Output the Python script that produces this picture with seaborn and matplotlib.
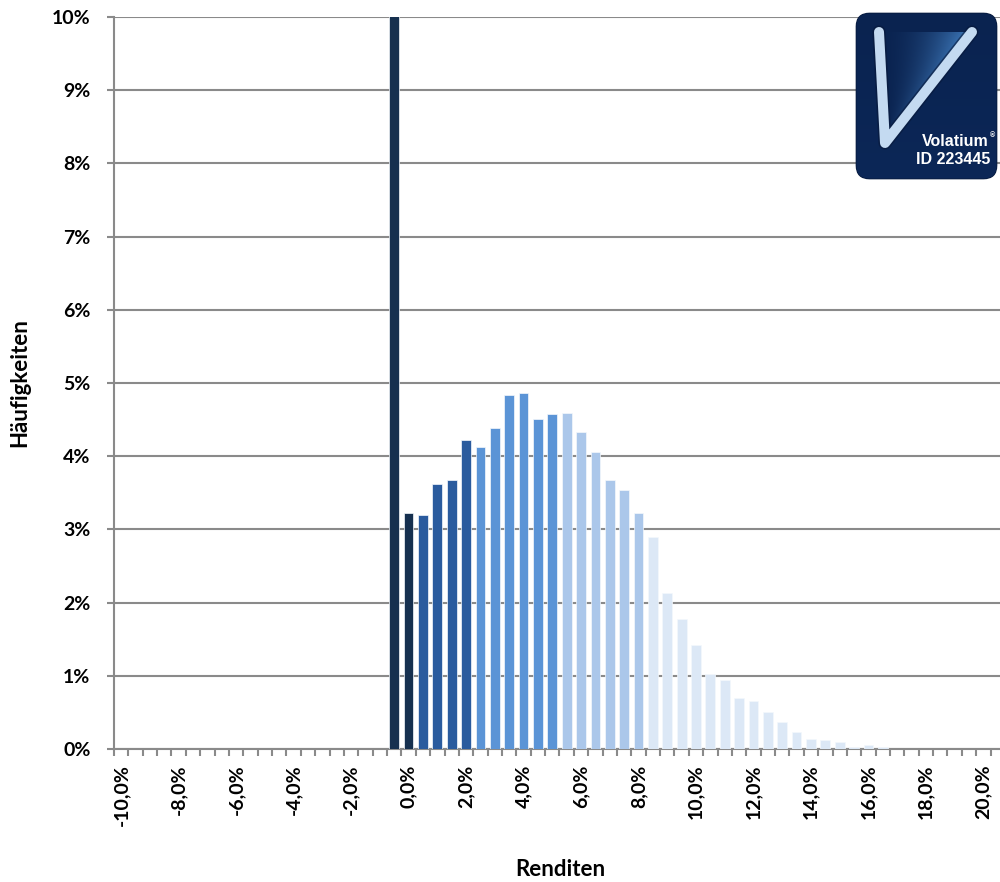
import numpy as np
import pandas as pd
import matplotlib
matplotlib.use("Agg")
import matplotlib.pyplot as plt
import seaborn as sns
from matplotlib.patches import FancyBboxPatch
from matplotlib.colors import to_rgb

# ---------------- data ----------------
returns = [-10.0, -9.5, -9.0, -8.5, -8.0, -7.5, -7.0, -6.5, -6.0, -5.5,
           -5.0, -4.5, -4.0, -3.5, -3.0, -2.5, -2.0, -1.5, -1.0, -0.5,
           0.0, 0.5, 1.0, 1.5, 2.0, 2.5, 3.0, 3.5, 4.0, 4.5,
           5.0, 5.5, 6.0, 6.5, 7.0, 7.5, 8.0, 8.5, 9.0, 9.5,
           10.0, 10.5, 11.0, 11.5, 12.0, 12.5, 13.0, 13.5, 14.0, 14.5,
           15.0, 15.5, 16.0, 16.5, 17.0, 17.5, 18.0, 18.5, 19.0, 19.5,
           20.0]

frequencies = [0.0, 0.0, 0.0, 0.0, 0.0, 0.0, 0.0, 0.0, 0.0, 0.0,
               0.0, 0.0, 0.0, 0.0, 0.0, 0.0, 0.0, 0.0, 0.0, 14.0,
               3.23, 3.20, 3.62, 3.68, 4.22, 4.13, 4.39, 4.83, 4.86, 4.51,
               4.58, 4.59, 4.33, 4.06, 3.67, 3.54, 3.22, 2.90, 2.13, 1.78,
               1.42, 1.02, 0.94, 0.70, 0.66, 0.51, 0.37, 0.23, 0.13, 0.12,
               0.10, 0.03, 0.05, 0.03, 0.0, 0.0, 0.0, 0.0, 0.0, 0.0,
               0.0]

band_limits = [0.0, 2.0, 5.0, 8.0]          # upper return of each colour band
band_names = ["b0", "b1", "b2", "b3", "b4"]
band_colors = ["#16304f", "#2a5b9e", "#5b94d6", "#abc7ea", "#dce8f6"]

y_ticks = [0, 1, 2, 3, 4, 5, 6, 7, 8, 9, 10]

# ---------------- helpers ----------------
labels = [f"{r:.1f}".replace(".", ",") + "%" for r in returns]


def band_of(r):
    for i, lim in enumerate(band_limits):
        if r <= lim:
            return band_names[i]
    return band_names[-1]


bands = [band_of(r) for r in returns]
df = pd.DataFrame({"Rendite": labels, "Haeufigkeit": frequencies, "Band": bands})

sns.set_theme(style="white")
plt.rcParams["font.family"] = ["Lato", "DejaVu Sans"]
plt.rcParams["font.weight"] = "bold"

fig = plt.figure(figsize=(10, 8.82), dpi=100)
ax = fig.add_axes([0.114, 1 - 749 / 882, 0.886, (749 - 17) / 882])

sns.barplot(data=df, x="Rendite", y="Haeufigkeit", hue="Band",
            order=labels, hue_order=band_names, palette=band_colors,
            dodge=False, width=0.68, saturation=1, legend=False,
            edgecolor="#f4f8fc", linewidth=0.5, ax=ax, zorder=3)

grey = "#8a8a8a"
ax.set_ylim(0, 10)
ax.set_xlim(-0.5, 886 / 14.37 - 0.5)
ax.set_yticks(y_ticks)
ax.set_yticklabels([f"{v}%" for v in y_ticks])
ax.yaxis.grid(True, color=grey, lw=1.5, zorder=0)
ax.xaxis.grid(False)
ax.set_axisbelow(True)

major = list(range(0, len(labels), 4))
ax.set_xticks(major)
ax.set_xticklabels([labels[i] for i in major], rotation=90)
ax.set_xticks(np.arange(-0.5, len(labels), 1.0), minor=True)

ax.tick_params(axis="x", which="major", length=0, pad=11, labelsize=14,
               labelcolor="black")
ax.tick_params(axis="x", which="minor", length=5, width=1.5, color=grey,
               direction="out", bottom=True)
ax.tick_params(axis="y", which="major", length=5, width=1.5, color=grey,
               direction="out", left=True, pad=12, labelsize=14,
               labelcolor="black")
for lab in ax.get_xticklabels() + ax.get_yticklabels():
    lab.set_fontweight("bold")

for s in ["top", "right"]:
    ax.spines[s].set_visible(False)
for s in ["left", "bottom"]:
    ax.spines[s].set_color(grey)
    ax.spines[s].set_linewidth(1.5)

ax.set_xlabel("Renditen", fontsize=16, fontweight="bold", color="black")
ax.xaxis.set_label_coords((560 - 114) / 886, (749 - 859) / 732)
ax.set_ylabel("Häufigkeiten", fontsize=16, fontweight="bold", color="black",
              va="center")
ax.yaxis.set_label_coords(-(114 - 20) / 886, 0.5)

# ---------------- logo ----------------
lax = fig.add_axes([855 / 1000, 1 - 181 / 882, 143 / 1000, 169 / 882])
lax.set_xlim(0, 143)
lax.set_ylim(169, 0)
lax.axis("off")
box = FancyBboxPatch((1.5, 1.5), 140, 165,
                     boxstyle="round,pad=0,rounding_size=13",
                     fc="#0b2453", ec="#071a3d", lw=1.2, zorder=1)
lax.add_patch(box)

H, W = 169, 143
yy, xx = np.mgrid[0:H, 0:W] + 0.5
dark = np.array(to_rgb("#0a2350"))
mid = np.array(to_rgb("#0f3068"))
light = np.array(to_rgb("#3f7bbd"))
xl = 24 + (yy - 20) * (30 - 24) / (131 - 20)
xr = 117 + (yy - 20) * (30 - 117) / (131 - 20)
inside = (yy > 20) & (yy < 131) & (xx > xl) & (xx < xr)
t = np.clip((xx - xl) / np.maximum(xr - xl, 1), 0, 1) ** 2.0 * \
    np.clip(1.2 - yy / 131, 0, 1)
rgb = np.empty((H, W, 3))
vert = np.clip(yy / H, 0, 1)[..., None]
rgb[:] = dark * (1 - 0.3 * vert) + mid * 0.3 * vert
rgb[inside] = dark * (1 - t[inside][:, None]) + light * t[inside][:, None]
im = lax.imshow(rgb, extent=(0, W, H, 0), zorder=2, interpolation="bilinear")
im.set_clip_path(box)

lax.plot([24, 30, 117], [20, 131, 20], color="#07183a", lw=9.5,
         solid_capstyle="round", solid_joinstyle="round", zorder=3, alpha=0.6)
lax.plot([24, 30, 117], [20, 131, 20], color="#c4daf1", lw=7.2,
         solid_capstyle="round", solid_joinstyle="round", zorder=4)
lax.text(134, 130, "Volatium", ha="right", va="center", color="white",
         fontsize=11.5, fontweight="bold", family=["Liberation Sans"], zorder=5)
lax.text(135, 124, "®", ha="left", va="center", color="white",
         fontsize=5, family=["Liberation Sans"], zorder=5)
lax.text(135, 147, "ID 223445", ha="right", va="center", color="white",
         fontsize=11.5, fontweight="bold", family=["Liberation Sans"], zorder=5)

fig.savefig("out.png", dpi=100)
